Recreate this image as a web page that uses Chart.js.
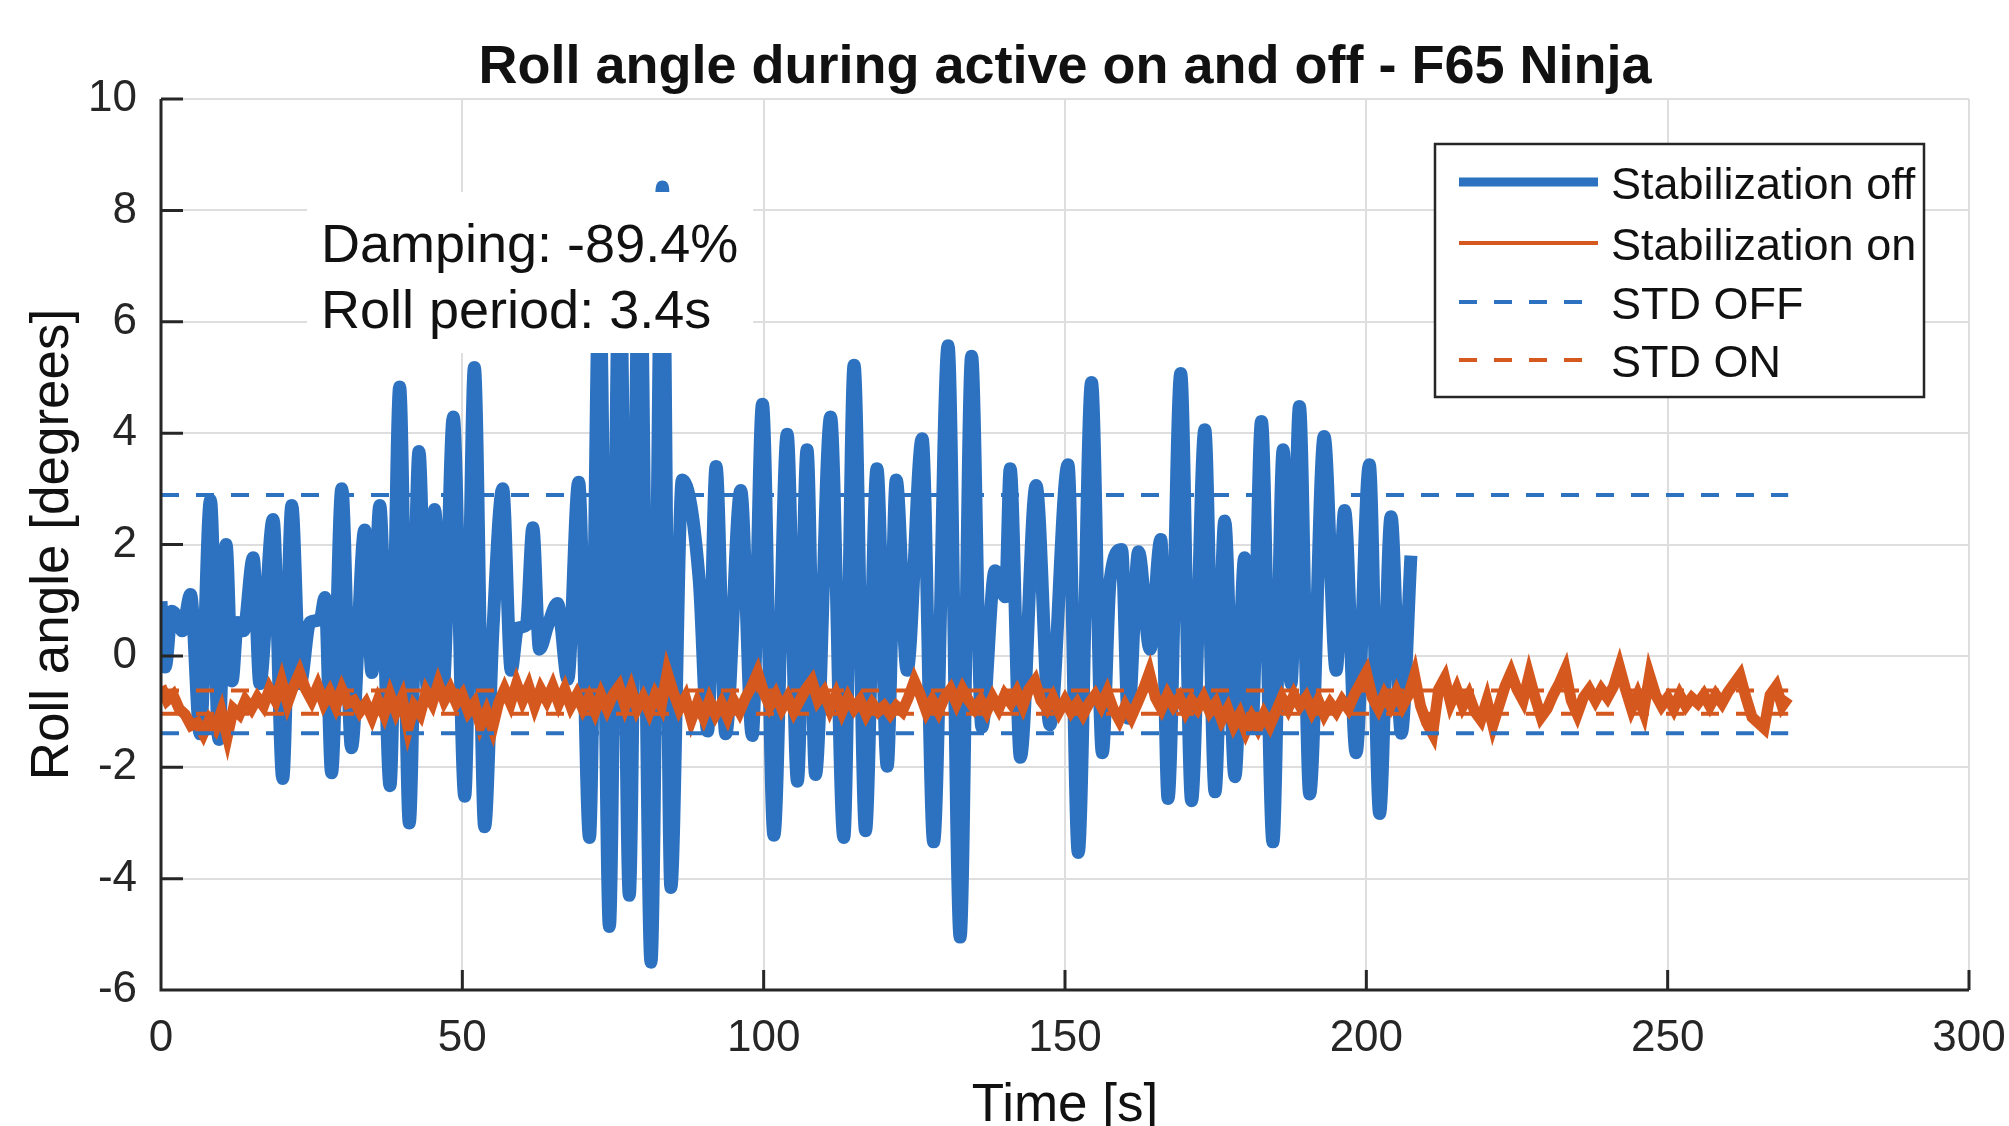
<!DOCTYPE html>
<html>
<head>
<meta charset="utf-8">
<script src="https://cdn.jsdelivr.net/npm/chart.js@4.4.1/dist/chart.umd.min.js"></script>
<style>
  html, body { margin: 0; padding: 0; background: #fff; overflow: hidden; }
  #rollChart { display: block; }
</style>
</head>
<body>
<canvas id="rollChart" width="2009" height="1126"></canvas>
<script>
// tick values
var xTicks = [0, 50, 100, 150, 200, 250, 300];
var yTicks = [-6, -4, -2, 0, 2, 4, 6, 8, 10];

// stabilization off - turning points (s, deg)
var blueTime = [0, 0.7, 1.8, 2.9, 3.5, 4.9, 6.5, 8.2, 9.6, 10.8, 11.8, 12.7, 13.7, 15.3, 16.4, 18.6, 20.2, 21.7, 23.1, 24.7,
  26.4, 27.2, 28.3, 30.0, 31.6, 33.8, 35.0, 36.3, 38.0, 39.6, 41.2, 42.8, 44.2, 45.4, 46.8, 48.5, 50.4, 52.0, 53.7, 55.1,
  56.7, 58.1, 59.2, 60.6, 61.7, 62.8, 64.2, 65.8, 67.5, 69.3, 71.1, 72.75, 74.4, 76.1, 77.7, 79.4, 81.3, 83.2, 84.6, 86.5,
  89.3, 90.7, 92.1, 93.7, 96.2, 98.1, 99.8, 101.7, 103.9, 105.6, 107.2, 108.6, 111.1, 113.3, 115.0, 116.9, 118.8, 120.5, 122.0, 123.8,
  126.3, 128.2, 130.6, 132.6, 134.5, 136.2, 138.4, 140.1, 140.9, 142.6, 145.2, 147.5, 150.5, 152.2, 154.4, 156.2, 157.5, 159.4, 160.5, 162.2,
  164.1, 165.9, 167.1, 169.2, 171.0, 173.2, 174.9, 176.5, 178.2, 179.8, 181.0, 182.6, 184.5, 186.2, 187.5, 188.9, 190.6, 193.0, 195.0, 196.4,
  198.3, 200.5, 202.2, 204.1, 205.8, 207.4];
var blueRoll = [0.98, -0.2, 0.8, 0.65, 0.45, 1.1, -1.4, 2.8, -1.5, 2.0, -0.45, 0.6, 0.45, 1.76, -0.5, 2.45, -2.2, 2.7, -0.5, 0.6,
  0.65, 1.05, -2.1, 3.0, -1.65, 2.26, -0.3, 2.7, -2.33, 4.83, -3.0, 3.67, -0.6, 2.63, -0.58, 4.29, -2.52, 5.18, -3.07, 0.51,
  3.0, -0.26, 0.5, 0.55, 2.3, 0.12, 0.55, 0.94, -0.42, 3.12, -3.26, 6.8, -4.86, 7.3, -4.3, 7.8, -5.5, 8.42, -4.16, 3.16,
  1.37, -1.35, 3.4, -1.4, 2.97, -1.43, 4.52, -3.22, 3.98, -2.25, 3.7, -2.13, 4.29, -3.26, 5.22, -3.14, 3.36, -1.98, 3.16, -0.26,
  3.9, -3.34, 5.57, -5.05, 5.38, -1.28, 1.53, 1.06, 3.36, -1.82, 3.06, -1.24, 3.43, -3.53, 4.91, -1.74, 1.37, 1.91, -1.12, 1.87,
  0.12, 2.09, -2.56, 5.07, -2.6, 4.06, -2.44, 2.42, -2.17, 1.76, -1.3, 4.21, -3.34, 3.7, -0.5, 4.48, -2.48, 3.94, -0.26, 2.61,
  -1.74, 3.43, -2.83, 2.5, -1.39, 1.8];

// stabilization on - one reading per second from t = 0 s
var orangeStep = 1;
var orangeRoll = [
  -0.55, -0.8, -0.7, -0.95, -1.05, -1.25, -1.2, -1.4, -1.15, -1.3,
  -1.0, -1.45, -0.95, -1.05, -0.8, -0.95, -0.75, -0.9, -0.6, -0.8,
  -0.45, -0.85, -0.55, -0.3, -0.6, -0.8, -0.55, -0.85, -0.65, -0.9,
  -0.6, -0.85, -0.8, -1.0, -0.85, -1.1, -0.8, -1.05, -0.7, -1.0,
  -0.75, -1.3, -0.9, -1.05, -0.65, -0.85, -0.5, -0.8, -0.6, -0.85,
  -0.7, -1.0, -0.85, -1.25, -1.0, -1.3, -0.85, -0.6, -0.85, -0.5,
  -0.8, -0.55, -0.9, -0.6, -0.8, -0.55, -0.85, -0.6, -0.9, -0.7,
  -0.95, -0.75, -1.0, -0.7, -0.95, -0.7, -0.55, -0.9, -0.6, -0.95,
  -0.75, -1.0, -0.7, -0.9, -0.3, -0.65, -0.95, -0.75, -1.15, -0.85,
  -1.1, -0.8, -1.05, -0.85, -1.1, -0.8, -1.0, -0.75, -0.55, -0.3,
  -0.65, -0.9, -0.7, -0.95, -0.75, -1.0, -0.8, -0.6, -0.45, -0.8,
  -0.65, -0.95, -0.7, -1.0, -0.75, -0.95, -0.8, -1.05, -0.85, -1.0,
  -0.9, -1.05, -0.9, -1.0, -0.75, -0.45, -0.7, -1.0, -0.8, -1.0,
  -0.75, -0.6, -0.85, -0.6, -0.8, -0.95, -0.8, -1.0, -0.75, -0.95,
  -0.7, -0.85, -0.65, -0.9, -0.6, -0.45, -0.8, -0.95, -0.75, -1.0,
  -0.8, -1.0, -0.85, -1.05, -0.85, -0.7, -0.9, -0.65, -0.95, -1.15,
  -0.9, -1.1, -0.85, -0.6, -0.3, -0.75, -0.95, -0.7, -0.9, -0.75,
  -1.0, -0.8, -0.95, -0.75, -1.0, -0.85, -1.15, -0.95, -1.25, -1.05,
  -1.35, -1.1, -1.3, -1.05, -1.25, -1.0, -0.75, -0.95, -0.7, -0.9,
  -0.75, -1.0, -0.8, -1.05, -0.85, -1.0, -0.8, -0.95, -0.7, -0.5,
  -0.3, -0.75, -0.95, -0.7, -0.9, -0.65, -0.9, -0.7, -0.35, -0.9,
  -1.2, -1.4, -0.6, -0.4, -0.85, -0.6, -0.9, -0.7, -1.0, -1.15,
  -0.8, -1.25, -0.9, -0.55, -0.3, -0.6, -0.8, -0.35, -0.75, -1.1,
  -0.95, -0.7, -0.5, -0.25, -0.8, -1.05, -0.75, -0.6, -0.8, -0.6,
  -0.75, -0.55, -0.2, -0.6, -0.95, -0.7, -1.0, -0.35, -0.7, -0.9,
  -0.75, -0.95, -0.7, -0.9, -0.75, -0.85, -0.7, -0.9, -0.7, -0.85,
  -0.65, -0.5, -0.35, -0.75, -1.1, -1.2, -1.3, -0.7, -0.55, -0.9, -0.75];

// standard deviation bands (mean +/- std), drawn up to t = 270 s
var stdEnd = 270;
var stdOff = [2.89, -1.39];
var stdOn = [-0.62, -1.04];

var legendNames = ['Stabilization off', 'Stabilization on', 'STD OFF', 'STD ON'];
var noteLines = ['Damping: -89.4%', 'Roll period: 3.4s'];
var titleText = 'Roll angle during active on and off - F65 Ninja';
var xTitle = 'Time [s]';
var yTitle = 'Roll angle [degrees]';

var BLUE = '#2d72c0';
var ORANGE = '#d5581f';
var FONT = "'Liberation Sans', Arial, sans-serif";

function pairs(xs, ys) {
    return ys.map(function (y, i) { return { x: xs[i], y: y }; });
}
function flat(level) {
    return [{ x: 0, y: level }, { x: stdEnd, y: level }];
}

var blueData = pairs(blueTime, blueRoll);
var orangeData = orangeRoll.map(function (v, i) { return { x: i * orangeStep, y: v }; });

var dashed = { borderWidth: 4, borderDash: [18, 17], pointRadius: 0, fill: false, order: 1 };

var overlay = {
    id: 'overlay',
    afterDraw: function (chart) {
        var ctx = chart.ctx, a = chart.chartArea;
        var xs = chart.scales.x, ys = chart.scales.y;
        ctx.save();

        // axis lines with inward ticks
        ctx.strokeStyle = '#262626';
        ctx.lineWidth = 3;
        ctx.beginPath();
        ctx.moveTo(a.left, a.top);
        ctx.lineTo(a.left, a.bottom);
        ctx.lineTo(a.right, a.bottom);
        yTicks.forEach(function (v) {
            var y = ys.getPixelForValue(v);
            ctx.moveTo(a.left, y); ctx.lineTo(a.left + 22, y);
        });
        xTicks.forEach(function (v) {
            var x = xs.getPixelForValue(v);
            ctx.moveTo(x, a.bottom); ctx.lineTo(x, a.bottom - 20);
        });
        ctx.stroke();

        // text box with white background
        ctx.fillStyle = '#fff';
        ctx.fillRect(307, 192, 446, 161);
        ctx.fillStyle = '#111';
        ctx.font = '54px ' + FONT;
        ctx.textAlign = 'left';
        ctx.textBaseline = 'alphabetic';
        ctx.fillText(noteLines[0], 321, 262);
        ctx.fillText(noteLines[1], 321, 328);

        // legend
        ctx.fillStyle = '#fff';
        ctx.fillRect(1435, 144, 489, 253);
        ctx.strokeStyle = '#262626';
        ctx.lineWidth = 2.5;
        ctx.strokeRect(1435, 144, 489, 253);
        var rows = [182, 243, 302, 360];
        var styles = [
            { c: BLUE, w: 9, d: [] },
            { c: ORANGE, w: 4, d: [] },
            { c: BLUE, w: 4, d: [18, 17] },
            { c: ORANGE, w: 4, d: [18, 17] }
        ];
        rows.forEach(function (y, i) {
            ctx.strokeStyle = styles[i].c;
            ctx.lineWidth = styles[i].w;
            ctx.setLineDash(styles[i].d);
            ctx.beginPath();
            ctx.moveTo(1459, y); ctx.lineTo(1598, y);
            ctx.stroke();
        });
        ctx.setLineDash([]);
        ctx.fillStyle = '#111';
        ctx.font = '45px ' + FONT;
        rows.forEach(function (y, i) {
            ctx.fillText(legendNames[i], 1611, y + 17);
        });

        // title and axis titles
        ctx.textAlign = 'center';
        ctx.font = 'bold 54px ' + FONT;
        ctx.fillText(titleText, (a.left + a.right) / 2, 83);
        ctx.font = '53px ' + FONT;
        ctx.fillText(xTitle, (a.left + a.right) / 2, 1121);
        ctx.translate(68, (a.top + a.bottom) / 2);
        ctx.rotate(-Math.PI / 2);
        ctx.fillText(yTitle, 0, 0);
        ctx.restore();
    }
};

var ctxRoll = document.getElementById('rollChart').getContext('2d');
var rollChart = new Chart(ctxRoll, {
    type: 'line',
    data: {
        datasets: [
            { label: legendNames[0], data: blueData, borderColor: BLUE, borderWidth: 13, pointRadius: 0, fill: false,
              cubicInterpolationMode: 'monotone', order: 3 },
            { label: legendNames[1], data: orangeData, borderColor: ORANGE, borderWidth: 11, pointRadius: 0, fill: false, order: 2 },
            Object.assign({ label: legendNames[2], data: flat(stdOff[0]), borderColor: BLUE }, dashed),
            Object.assign({ label: legendNames[2], data: flat(stdOff[1]), borderColor: BLUE }, dashed),
            Object.assign({ label: legendNames[3], data: flat(stdOn[0]), borderColor: ORANGE }, dashed),
            Object.assign({ label: legendNames[3], data: flat(stdOn[1]), borderColor: ORANGE }, dashed)
        ]
    },
    options: {
        responsive: false,
        animation: false,
        devicePixelRatio: 1,
        layout: { padding: { top: 99, right: 40, left: 0, bottom: 0 } },
        plugins: { legend: { display: false }, title: { display: false }, tooltip: { enabled: false } },
        scales: {
            x: {
                type: 'linear', min: 0, max: 300,
                afterBuildTicks: function (s) { s.ticks = xTicks.map(function (v) { return { value: v }; }); },
                afterFit: function (s) { s.height = 136; s.paddingLeft = 0; s.paddingRight = 0; },
                grid: { color: '#dedede', lineWidth: 2, drawTicks: false },
                border: { display: false },
                ticks: { padding: 22, color: '#262626', font: { size: 44, family: FONT }, maxRotation: 0 }
            },
            y: {
                min: -6, max: 10,
                afterBuildTicks: function (s) { s.ticks = yTicks.map(function (v) { return { value: v }; }); },
                afterFit: function (s) { s.width = 161; s.paddingTop = 0; s.paddingBottom = 0; },
                grid: { color: '#dedede', lineWidth: 2, drawTicks: false },
                border: { display: false },
                ticks: { padding: 24, color: '#262626', font: { size: 44, family: FONT } }
            }
        }
    },
    plugins: [overlay]
});
</script>
</body>
</html>
